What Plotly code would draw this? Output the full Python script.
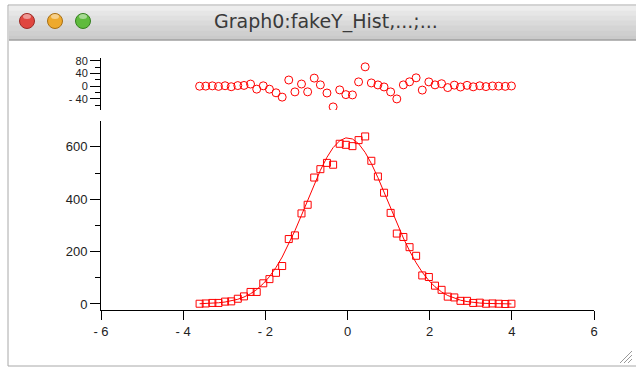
import plotly.graph_objects as go

# histogram bin centres (fakeY_Hist) and counts
bin_x = [-3.60, -3.45, -3.29, -3.14, -2.98, -2.83, -2.67, -2.52, -2.36, -2.21,
         -2.05, -1.90, -1.74, -1.59, -1.43, -1.28, -1.12, -0.97, -0.81, -0.66,
         -0.50, -0.35, -0.19, -0.04, 0.12, 0.27, 0.43, 0.58, 0.74, 0.89,
         1.05, 1.20, 1.36, 1.51, 1.67, 1.82, 1.98, 2.13, 2.29, 2.44,
         2.60, 2.75, 2.91, 3.06, 3.22, 3.37, 3.53, 3.68, 3.84, 3.99]
hist_y = [1, 2, 4, 4, 9, 10, 20, 29, 46, 46,
          79, 95, 119, 145, 248, 262, 346, 379, 483, 515,
          539, 532, 612, 608, 603, 626, 640, 547, 487, 425,
          348, 269, 256, 217, 184, 109, 103, 70, 54, 28,
          25, 12, 12, 4, 5, 1, 2, 1, 0, 1]
# gauss fit curve at the same x
fit_y = [0.97, 1.65, 2.83, 4.59, 7.49, 11.6, 18.0, 26.5, 39.2, 55.2,
         77.7, 104.4, 139.8, 179.4, 228.4, 279.9, 339.1, 396.7, 457.4, 510.7,
         560.4, 597.3, 623.6, 634.5, 630.4, 612.3, 578.9, 536.7, 482.9, 427.3,
         365.9, 309.1, 251.8, 203.1, 157.5, 121.2, 89.4, 65.7, 46.1, 32.3,
         21.6, 14.5, 9.2, 5.9, 3.6, 2.2, 1.25, 0.73, 0.40, 0.22]
resid_y = [h - f for h, f in zip(hist_y, fit_y)]

x_ticks = [-6, -4, -2, 0, 2, 4, 6]
x_labels = ["- 6", "- 4", "- 2", "0", "2", "4", "6"]
y_ticks = [0, 200, 400, 600]
res_ticks = [-40, 0, 40, 80]
res_labels = ["- 40", "0", "40", "80"]

window_title = "Graph0:fakeY_Hist,...;..."

RED = "#ff0000"
L, R, T, B = 101, 594, 58, 310


def px(x):
    return (x - L) / (R - L)


def py(y):
    return (B - y) / (B - T)


fig = go.Figure()
fig.add_scatter(x=bin_x, y=fit_y, mode="lines", line=dict(color=RED, width=1),
                xaxis="x", yaxis="y")
fig.add_scatter(x=bin_x, y=hist_y, mode="markers",
                marker=dict(symbol="square-open", size=7, color=RED, line=dict(width=1)),
                xaxis="x", yaxis="y")
fig.add_scatter(x=bin_x, y=resid_y, mode="markers",
                marker=dict(symbol="circle-open", size=8, color=RED, line=dict(width=1)),
                xaxis="x", yaxis="y2")

axis_font = dict(family="Liberation Sans", size=13, color="#222")
common = dict(showline=True, linecolor="black", linewidth=1, ticks="outside",
              tickcolor="black", tickwidth=1, showgrid=False, zeroline=False)

shapes = []
# window frame
shapes.append(dict(type="rect", xref="paper", yref="paper",
                   x0=px(8), x1=px(660), y0=py(5), y1=py(366),
                   line=dict(color="#a8a8a8", width=1), fillcolor="white", layer="below"))
# title bar gradient
greys = ["#ededed", "#e6e6e6", "#e0e0e0", "#dadada", "#d4d4d4", "#cfcfcf", "#cacaca"]
top = 6
step = 34 / len(greys)
for i, g in enumerate(greys):
    shapes.append(dict(type="rect", xref="paper", yref="paper",
                       x0=px(9), x1=px(660), y0=py(top + i * step), y1=py(top + (i + 1) * step + 0.5),
                       line=dict(width=0), fillcolor=g, layer="below"))
shapes.append(dict(type="line", xref="paper", yref="paper",
                   x0=px(9), x1=px(660), y0=py(40), y1=py(40),
                   line=dict(color="#8a8a8a", width=1)))
# traffic lights
for cx, col, edge in [(27, "#e0463f", "#9c2a25"), (55, "#eea92c", "#a86f14"), (83, "#5fbb3d", "#35801f")]:
    shapes.append(dict(type="circle", xref="paper", yref="paper",
                       x0=px(cx - 7.5), x1=px(cx + 7.5), y0=py(21 - 7.5), y1=py(21 + 7.5),
                       line=dict(color=edge, width=1), fillcolor=col))
    shapes.append(dict(type="circle", xref="paper", yref="paper",
                       x0=px(cx - 4), x1=px(cx + 4), y0=py(14), y1=py(19),
                       line=dict(width=0), fillcolor="rgba(255,255,255,0.45)"))
# resize grip
for d in [4, 8, 12]:
    shapes.append(dict(type="line", xref="paper", yref="paper",
                       x0=px(632 - d), x1=px(632), y0=py(363), y1=py(363 - d),
                       line=dict(color="#999", width=1)))

fig.update_layout(
    width=636,
    height=372,
    margin=dict(l=L, r=636 - R, t=T, b=372 - B),
    paper_bgcolor="white",
    plot_bgcolor="white",
    showlegend=False,
    xaxis=dict(range=[-6, 6], tickmode="array", tickvals=x_ticks, ticktext=x_labels,
               ticklen=9, anchor="y", tickfont=axis_font, **common),
    yaxis=dict(range=[-23, 699], domain=[0, py(121)], tickmode="array", tickvals=y_ticks,
               ticklen=10, anchor="x", tickfont=axis_font,
               minor=dict(tickmode="linear", tick0=0, dtick=100, ticklen=5, ticks="outside",
                          tickcolor="black", showgrid=False),
               **common),
    yaxis2=dict(range=[-75, 89], domain=[py(110), 1], tickmode="array", tickvals=res_ticks,
                ticktext=res_labels, ticklen=10, anchor="x",
                tickfont=dict(family="Liberation Sans", size=11, color="#222"),
                minor=dict(tickmode="linear", tick0=0, dtick=20, ticklen=5, ticks="outside",
                           tickcolor="black", showgrid=False),
                **common),
    shapes=shapes,
    annotations=[dict(text=window_title, xref="paper", yref="paper", x=px(326), y=py(21),
                      showarrow=False, xanchor="center", yanchor="middle",
                      font=dict(family="DejaVu Sans", size=19, color="#3a3a3a"))],
)

# drop the browser's default 8px body margin so the figure sits at the page corner
fig.write_html("out.html", config={"displayModeBar": False},
               post_script="document.body.style.margin='0';")
